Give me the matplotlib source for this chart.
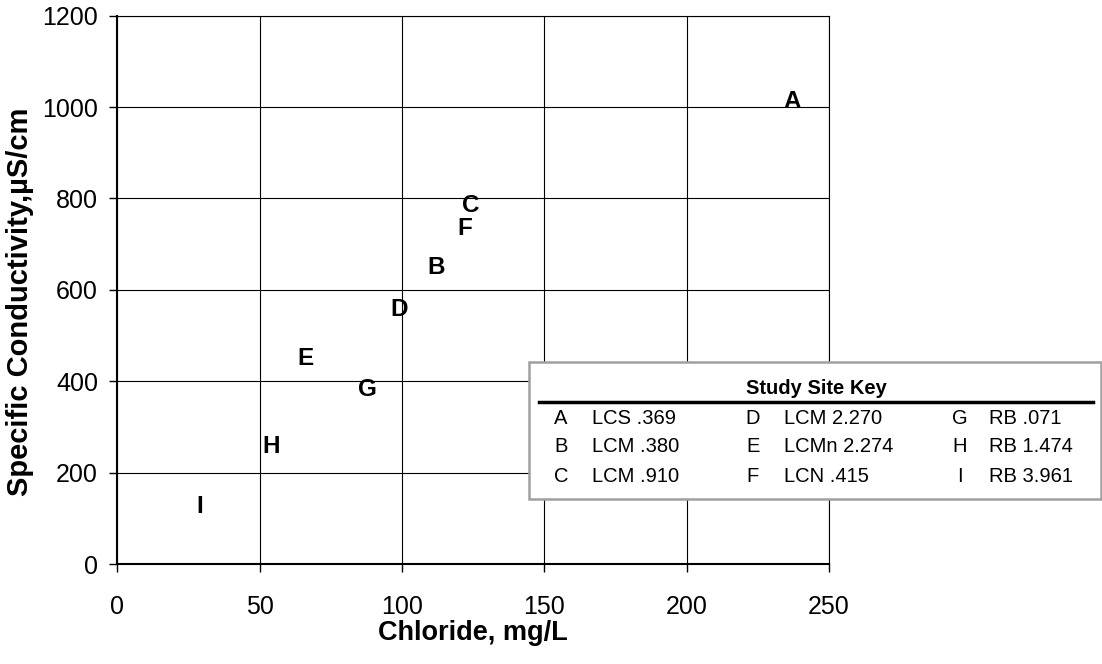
import matplotlib
matplotlib.use("Agg")
import matplotlib.pyplot as plt
from matplotlib.patches import Rectangle
from matplotlib.lines import Line2D

plt.rcParams['font.family'] = ['Liberation Sans', 'DejaVu Sans']

# site letters with chloride (mg/L) and specific conductivity (uS/cm)
sites = ['A', 'B', 'C', 'D', 'E', 'F', 'G', 'H', 'I']
chloride = [237, 112, 124, 99, 66, 122, 88, 54, 29]
conductivity = [1012, 648, 785, 558, 450, 735, 382, 258, 125]
site_names = ['LCS .369', 'LCM .380', 'LCM .910', 'LCM 2.270', 'LCMn 2.274',
              'LCN .415', 'RB .071', 'RB 1.474', 'RB 3.961']

x_ticks = [0, 50, 100, 150, 200, 250]
y_ticks = [0, 200, 400, 600, 800, 1000, 1200]

fig = plt.figure(figsize=(11.02, 6.64), dpi=100)
ax = fig.add_axes([0.1065, 0.1506, 0.6458, 0.8258])

for s, x, y in zip(sites, chloride, conductivity):
    ax.text(x, y, s, ha='center', va='center', fontsize=17.5, fontweight='bold')

ax.set_xlim(0, 250)
ax.set_ylim(0, 1200)
ax.set_xticks(x_ticks)
ax.set_yticks(y_ticks)
ax.grid(True, color='black', linewidth=0.8)
ax.set_axisbelow(True)
ax.tick_params(direction='out', length=6, width=1, labelsize=18)
ax.tick_params(axis='x', pad=16)
ax.tick_params(axis='y', pad=8)
for side in ['top', 'right']:
    ax.spines[side].set_linewidth(0.8)
for side in ['left', 'bottom']:
    ax.spines[side].set_linewidth(1.5)

ax.set_xlabel('Chloride, mg/L', fontsize=19.5, fontweight='bold', labelpad=1)
ax.set_ylabel('Specific Conductivity,\u00b5S/cm', fontsize=21, fontweight='bold')
ax.yaxis.set_label_coords(-0.117, 0.478)

# key box in figure pixels
W, H = 1102, 664
def fx(px):
    return px / W
def fy(py):
    return 1 - py / H

box = Rectangle((fx(529), fy(499)), fx(1101) - fx(529), fy(362) - fy(499),
                transform=fig.transFigure, facecolor='white', edgecolor='#a0a0a0',
                linewidth=1.8, zorder=5)
fig.patches.append(box)
fig.text(fx(816), fy(388), 'Study Site Key', ha='center', va='center',
         fontsize=14.5, fontweight='bold', zorder=6)
fig.lines.append(Line2D([fx(539), fx(1093)], [fy(402), fy(402)], transform=fig.transFigure,
                        color='black', linewidth=2.5, zorder=6))

col_letter_x = [561, 753, 960]
col_name_x = [592, 784, 989]
row_y = [419, 447, 476]
for i, (s, n) in enumerate(zip(sites, site_names)):
    c, r = divmod(i, 3)
    fig.text(fx(col_letter_x[c]), fy(row_y[r]), s, ha='center', va='center',
             fontsize=14.5, zorder=6)
    fig.text(fx(col_name_x[c]), fy(row_y[r]), n, ha='left', va='center',
             fontsize=14.5, zorder=6)

fig.savefig('out.png', dpi=100)
